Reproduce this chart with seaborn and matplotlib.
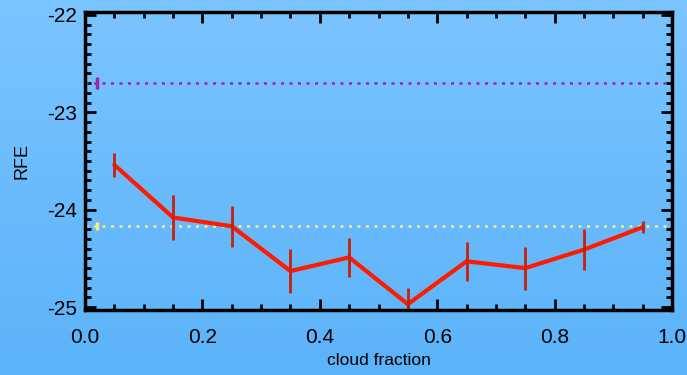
import numpy as np
import pandas as pd
import seaborn as sns
import matplotlib
matplotlib.use('Agg')
import matplotlib.pyplot as plt
from matplotlib.ticker import MultipleLocator

# binned RFE vs cloud fraction
cloud_frac = [0.05, 0.15, 0.25, 0.35, 0.45, 0.55, 0.65, 0.75, 0.85, 0.95]
rfe = [-23.54, -24.08, -24.17, -24.63, -24.49, -24.97, -24.53, -24.60, -24.41, -24.18]
rfe_err = [0.12, 0.23, 0.21, 0.23, 0.20, 0.17, 0.20, 0.22, 0.21, 0.06]

# reference levels (drawn as dotted lines)
ref_purple = -22.70
ref_purple_err = 0.06
ref_yellow = -24.17
ref_yellow_err = 0.04

df = pd.DataFrame({'cloud fraction': cloud_frac, 'RFE': rfe})

bg = '#6dbdfd'
sns.set_style('ticks')
plt.rcParams['font.family'] = ['Liberation Sans', 'DejaVu Sans']
plt.rcParams['text.color'] = 'black'
plt.rcParams['axes.labelcolor'] = 'black'
plt.rcParams['xtick.labelcolor'] = 'black'
plt.rcParams['ytick.labelcolor'] = 'black'

fig = plt.figure(figsize=(6.87, 3.75), dpi=100, facecolor=bg)
ax = fig.add_axes([85 / 687, 65 / 375, 587 / 687, 298 / 375])

# gradient background behind everything
grad = np.linspace(0, 1, 256).reshape(-1, 1)
bgax = fig.add_axes([0, 0, 1, 1], zorder=-10)
bgax.imshow(grad, aspect='auto', extent=[0, 1, 0, 1],
            cmap=matplotlib.colors.LinearSegmentedColormap.from_list('bg', ['#7ac4ff', '#5cb3f9']))
bgax.axis('off')
ax.patch.set_alpha(0)

ax.axhline(ref_purple, color='#9a2aa8', ls=(0, (1.2, 2.2)), lw=1.8)
ax.axhline(ref_yellow, color='#f2f08a', ls=(0, (1.2, 2.2)), lw=1.8)
ax.errorbar([0.02], [ref_purple], yerr=[ref_purple_err], fmt='none', ecolor='#9a2aa8', elinewidth=2.5)
ax.errorbar([0.02], [ref_yellow], yerr=[ref_yellow_err], fmt='none', ecolor='#f5f070', elinewidth=2.5)

sns.lineplot(data=df, x='cloud fraction', y='RFE', ax=ax, color='#ff1a00', lw=3)
ax.errorbar(cloud_frac, rfe, yerr=rfe_err, fmt='none', ecolor='#c8200c', elinewidth=2)

ax.set_xlim(0, 1)
ax.set_ylim(-25.03, -21.97)
ax.set_xticks([0.0, 0.2, 0.4, 0.6, 0.8, 1.0])
ax.set_xticklabels(['0.0', '0.2', '0.4', '0.6', '0.8', '1.0'])
ax.set_yticks([-25, -24, -23, -22])
ax.set_yticklabels(['-25', '-24', '-23', '-22'])
ax.xaxis.set_minor_locator(MultipleLocator(0.05))
ax.yaxis.set_minor_locator(MultipleLocator(0.1))
ax.tick_params(which='both', direction='in', top=True, right=True, color='black', width=2)
ax.tick_params(which='major', length=8, labelsize=15)
ax.tick_params(axis='x', which='major', pad=13)
ax.tick_params(axis='y', which='major', pad=6)
ax.tick_params(which='minor', length=4)
for s in ax.spines.values():
    s.set_visible(True)
    s.set_linewidth(2.5)
    s.set_color('black')

ax.set_xlabel('cloud fraction', fontsize=12.5, labelpad=4)
ax.set_ylabel('RFE', fontsize=13, labelpad=12)

fig.savefig('out.png', dpi=100, facecolor=bg)
